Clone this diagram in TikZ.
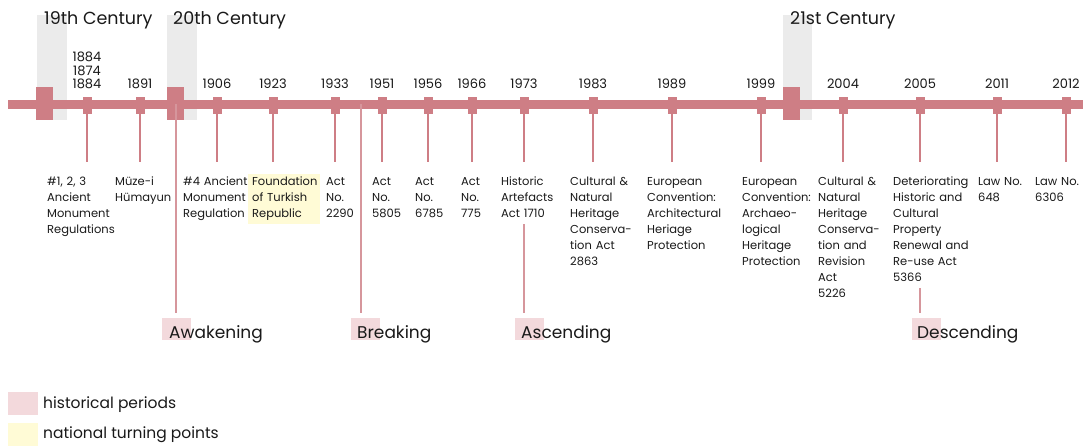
\documentclass[tikz,border=0pt]{standalone}
\usepackage{fontspec}
\setmainfont{Poppins}
\definecolor{barred}{RGB}{206,126,133}
\definecolor{periodred}{RGB}{214,150,156}
\definecolor{periodpink}{RGB}{243,217,220}
\definecolor{turnyellow}{RGB}{255,251,214}
\definecolor{centgray}{RGB}{235,235,235}
\definecolor{ink}{RGB}{25,25,25}
\tikzset{
  centband/.style={fill=centgray, draw=none},
  centsq/.style={fill=barred, draw=none, minimum width=17pt, minimum height=33pt, inner sep=0pt, anchor=north west},
  centlabel/.style={anchor=base west, inner sep=0pt, text=ink, font=\fontsize{17.5}{20}\selectfont},
  tick/.style={fill=barred, draw=none, minimum width=9pt, minimum height=17pt, inner sep=0pt},
  yearlabel/.style={anchor=base, inner sep=0pt, text=ink, font=\fontsize{13}{13.3}\selectfont},
  evlabel/.style={anchor=base west, inner sep=0pt, text width=90pt, align=left, text=ink, font=\fontsize{11.5}{16}\selectfont},
  turnlabel/.style={evlabel, fill=turnyellow, inner xsep=4pt, inner ysep=3pt, text width=64pt},
  evline/.style={draw=barred, line width=2pt},
  periodline/.style={draw=periodred, line width=1.6pt},
  periodbox/.style={fill=periodpink, draw=none, minimum width=29pt, minimum height=22pt, inner sep=0pt, anchor=north west},
  periodlabel/.style={anchor=base west, inner sep=0pt, text=ink, font=\fontsize{17}{20}\selectfont},
  legendbox/.style={fill=#1, draw=none, minimum width=30pt, minimum height=23pt, inner sep=0pt, anchor=north west},
  legendlabel/.style={anchor=base west, inner sep=0pt, text=ink, font=\fontsize{15.5}{18}\selectfont},
}
\begin{document}
\begin{tikzpicture}[x=1pt, y=-1pt]
\useasboundingbox (0,0) rectangle (1087,446);

% century bands behind the time line
\fill[centband] (37,15) rectangle (67,120);
\fill[centband] (167,15) rectangle (197,120);
\fill[centband] (783,15) rectangle (812,120);
\node[centlabel] (l19) at (44,25) {19th Century};
\node[centlabel] (l20) at (173,25) {20th Century};
\node[centlabel] (l21) at (790,25) {21st Century};

% main time line
\coordinate (barL) at (8,104.5);
\coordinate (barR) at (1083,104.5);
\draw[barred, line width=9pt] (barL) -- (barR);

% century markers
\node[centsq] (c19) at (36,87) {};
\node[centsq] (c20) at (167,87) {};
\node[centsq] (c21) at (783,87) {};

% year ticks and year labels
\foreach \n/\x in {a/87, b/140, c/217, d/273, e/335, f/382, g/428, h/472,
                   i/524, j/593, k/672, l/761, m/843, n/920, o/997, p/1066}
  \node[tick] (t\n) at (\x,105.5) {};

\node[yearlabel, align=center, anchor=south] (ya) at (87,89) {1884\\1874\\1884};
\foreach \n/\x/\yr in {b/140/1891, c/217/1906, d/273/1923, e/335/1933,
                       f/382/1951, g/428/1956, h/472/1966, i/524/1973,
                       j/593/1983, k/672/1989, l/761/1999, m/843/2004,
                       n/920/2005, o/997/2011, p/1066/2012}
  \node[yearlabel] (y\n) at (\x,89) {\yr};

% event descriptions
\node[evlabel] (la) at (47,186) {\#1, 2, 3\\Ancient\\Monument\\Regulations};
\node[evlabel] (lb) at (115,186) {Müze-i\\Hümayun};
\node[evlabel] (lc) at (183,186) {\#4 Ancient\\Monument\\Regulation};
\node[turnlabel] (ld) at (248,186) {Foundation\\of Turkish\\Republic};
\node[evlabel] (le) at (326,186) {Act\\No.\\2290};
\node[evlabel] (lf) at (372,186) {Act\\No.\\5805};
\node[evlabel] (lg) at (415,186) {Act\\No.\\6785};
\node[evlabel] (lh) at (461,186) {Act\\No.\\775};
\node[evlabel] (li) at (501,186) {Historic\\Artefacts\\Act 1710};
\node[evlabel] (lj) at (570,186) {Cultural \&\\Natural\\Heritage\\Conserva-\\tion Act\\2863};
\node[evlabel] (lk) at (647,186) {European\\Convention:\\Architectural\\Heriage\\Protection};
\node[evlabel] (ll) at (742,186) {European\\Convention:\\Archaeo-\\logical\\Heritage\\Protection};
\node[evlabel] (lm) at (818,186) {Cultural \&\\Natural\\Heritage\\Conserva-\\tion and\\Revision\\Act\\5226};
\node[evlabel] (ln) at (893,186) {Deteriorating\\Historic and\\Cultural\\Property\\Renewal and\\Re-use Act\\5366};
\node[evlabel] (lo) at (978,186) {Law No.\\648};
\node[evlabel] (lp) at (1035,186) {Law No.\\6306};

% drop lines from ticks towards the descriptions
\coordinate (dropend) at (0,162);
\foreach \n in {a,b,c,d,e,f,g,h,i,j,k,l,m,n,o,p}
  \draw[evline] (t\n.south) -- (t\n.south |- dropend);

% historical periods
\node[periodbox] (pa) at (162,318) {};
\node[periodbox] (pb) at (351,318) {};
\node[periodbox] (pc) at (515,318) {};
\node[periodbox] (pd) at (912,318) {};
\node[periodlabel] (qa) at (169,338) {Awakening};
\node[periodlabel] (qb) at (357,338) {Breaking};
\node[periodlabel] (qc) at (521,338) {Ascending};
\node[periodlabel] (qd) at (917,338) {Descending};

\coordinate (ka) at (176,104.5);
\coordinate (kb) at (361,104.5);
\draw[periodline, shorten >=5pt] (ka) -- (ka |- pa.north);
\draw[periodline, shorten >=5pt] (kb) -- (kb |- pb.north);
\draw[periodline, shorten <=6pt, shorten >=5pt] (ti.south |- li.south) -- (ti.south |- pc.north);
\draw[periodline, shorten <=6pt, shorten >=5pt] (tn.south |- ln.south) -- (tn.south |- pd.north);

% legend
\node[legendbox=periodpink] (kp) at (8,392) {};
\node[legendbox=turnyellow] (ky) at (8,423) {};
\node[legendlabel] (kpl) at (43,408) {historical periods};
\node[legendlabel] (kyl) at (43,438) {national turning points};
\end{tikzpicture}
\end{document}
